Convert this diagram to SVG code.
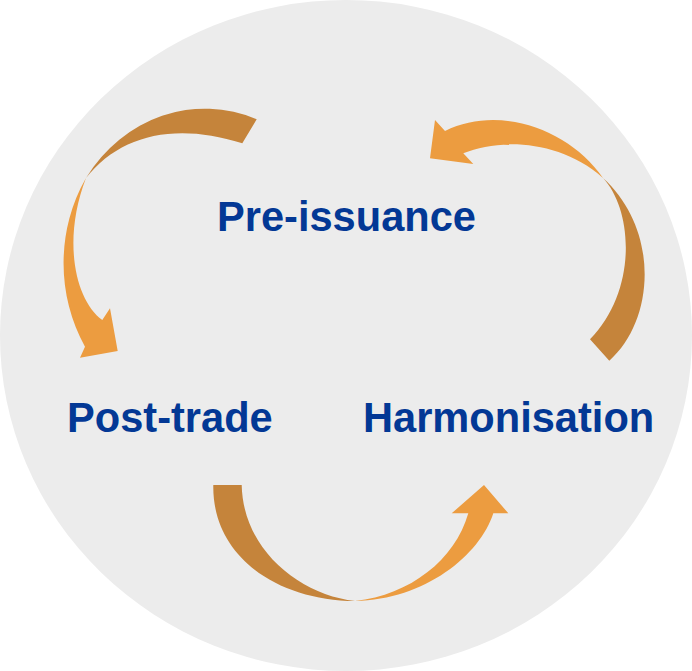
<svg xmlns="http://www.w3.org/2000/svg" width="692" height="671" viewBox="0 0 692 671">
<style>
.bg{fill:#ececec}
.dark{fill:#c5843b}
.light{fill:#ec9c40}
.lbl{font-family:"Liberation Sans",Arial,sans-serif;font-weight:bold;font-size:41.6px;fill:#033895}
</style>
<rect width="692" height="671" fill="#ffffff"/>
<ellipse class="bg" cx="346" cy="335.5" rx="346" ry="335.5"/>
<g id="connectors">
  <g id="arrow-pre-to-post">
    <path class="dark" d="M256.7,119.3 A144,159 0 0 0 86,178 C120,135 175,122 242.3,143.3 Z"/>
    <path class="light" d="M86,178 A144,159 0 0 0 85,346.7 L80,357.7 L117.7,351 L110,308.3 L102.3,320 C75,300 62,240 86,178 Z"/>
  </g>
  <g id="arrow-harm-to-pre">
    <path class="dark" d="M609.3,360.7 C655,320 660,230 603,178 C633,210 638,290 590,339.3 Z"/>
    <path class="light" d="M603,178 C570,130 500,104 445,131 L435,120 L430,158.3 L473.3,164 L463.3,153.3 C500,138 560,140 603,178 Z"/>
  </g>
  <g id="arrow-post-to-harm">
    <path class="dark" d="M213.3,485 C212,555 275,600 355,601 C300,595 243,550 241.7,485 Z"/>
    <path class="light" d="M355,601 C425,600 480,555 493.3,513.3 L508.3,513.3 L484,485 L451.7,513.3 L468.3,513.3 C455,560 410,595 355,601 Z"/>
  </g>
</g>
<g id="node-pre-issuance"><text class="lbl" x="217" y="231">Pre-issuance</text></g>
<g id="node-post-trade"><text class="lbl" x="67" y="432">Post-trade</text></g>
<g id="node-harmonisation"><text class="lbl" x="363" y="432">Harmonisation</text></g>
</svg>
